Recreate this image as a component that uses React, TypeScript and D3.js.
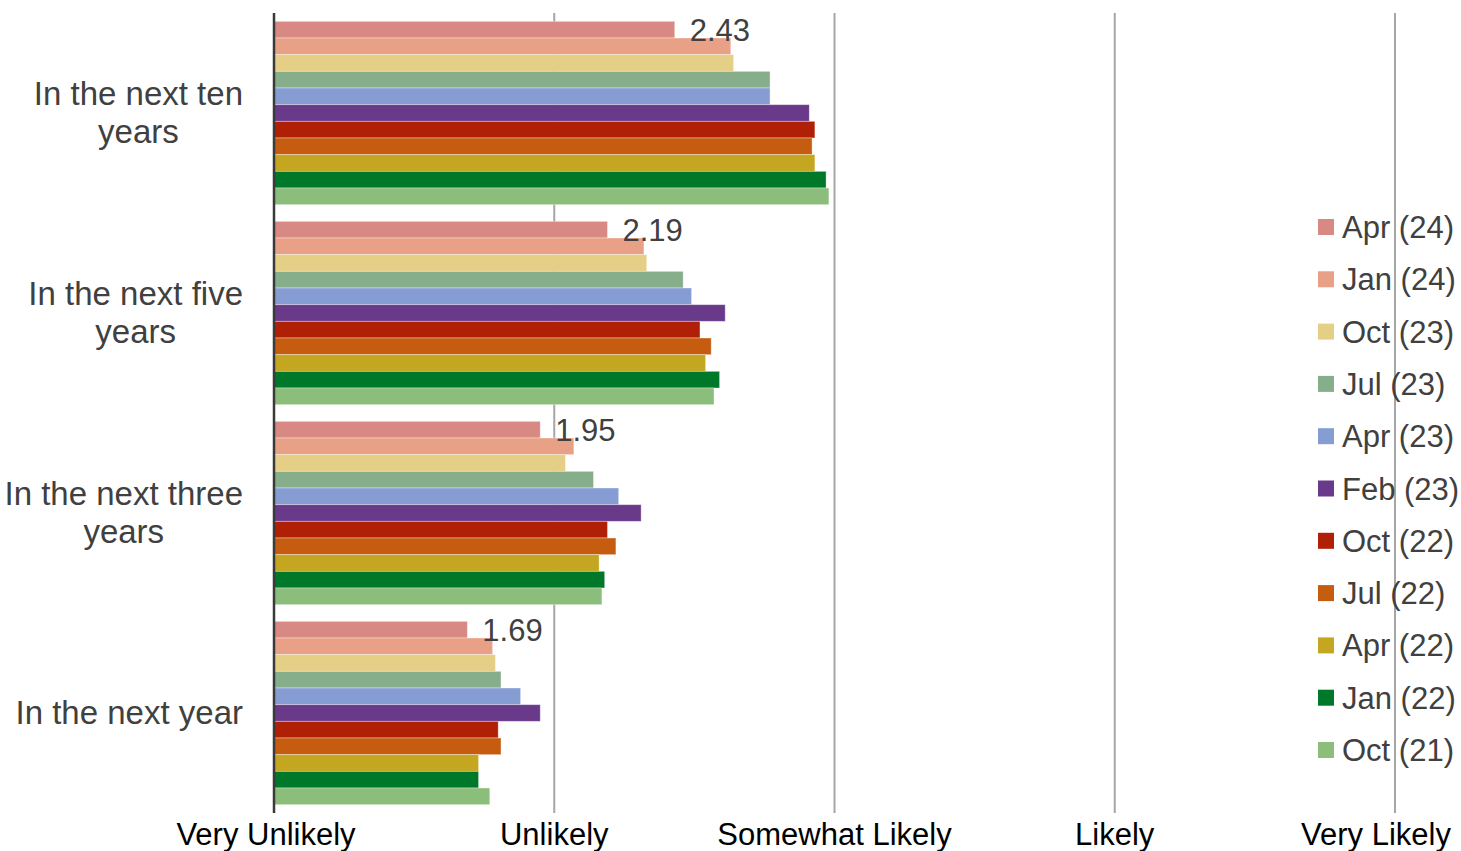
import React, { useRef, useEffect } from "react";
import * as d3 from "d3";

// categories, top to bottom
const categories = [
  "In the next ten years",
  "In the next five years",
  "In the next three years",
  "In the next year",
];

// survey waves (legend order, also bar order inside each group)
const waves = [
  "Apr (24)",
  "Jan (24)",
  "Oct (23)",
  "Jul (23)",
  "Apr (23)",
  "Feb (23)",
  "Oct (22)",
  "Jul (22)",
  "Apr (22)",
  "Jan (22)",
  "Oct (21)",
];

const waveColors = [
  "#D88983",
  "#E8A086",
  "#E5CF87",
  "#86AE8A",
  "#869DD3",
  "#6A3A8A",
  "#B02006",
  "#C55C10",
  "#C4A621",
  "#00782A",
  "#8BBE7A",
];

// mean score per wave, 1 = Very Unlikely ... 5 = Very Likely
const tenYears = [2.43, 2.63, 2.64, 2.77, 2.77, 2.91, 2.93, 2.92, 2.93, 2.97, 2.98];
const fiveYears = [2.19, 2.32, 2.33, 2.46, 2.49, 2.61, 2.52, 2.56, 2.54, 2.59, 2.57];
const threeYears = [1.95, 2.07, 2.04, 2.14, 2.23, 2.31, 2.19, 2.22, 2.16, 2.18, 2.17];
const nextYear = [1.69, 1.78, 1.79, 1.81, 1.88, 1.95, 1.8, 1.81, 1.73, 1.73, 1.77];

const tickValues = [1, 2, 3, 4, 5];
const tickLabels = ["Very Unlikely", "Unlikely", "Somewhat Likely", "Likely", "Very Likely"];

const FONT = "'Liberation Sans', Arial, sans-serif";

const App: React.FC = () => {
  const ref = useRef<SVGSVGElement | null>(null);

  useEffect(() => {
    if (!ref.current) return;
    const root = d3.select(ref.current);
    root.selectAll("*").remove();

    const width = 1461;
    const height = 851;
    const margin = { top: 13, right: 66, bottom: 38, left: 274 };

    const rows = [tenYears, fiveYears, threeYears, nextYear];
    const data = categories.map((c, ci) => ({
      category: c,
      values: rows[ci].map((v, wi) => ({ wave: waves[wi], value: v, color: waveColors[wi] })),
    }));

    const x = d3.scaleLinear().domain([1, 5]).range([margin.left, width - margin.right]);
    const y0 = d3
      .scaleBand()
      .domain(categories)
      .range([margin.top, height - margin.bottom])
      .padding(0);
    const y1 = d3
      .scaleBand()
      .domain(waves)
      .range([0, y0.bandwidth()])
      .paddingInner(0)
      .paddingOuter(0.5);

    const svg = root.attr("width", width).attr("height", height);
    svg.append("rect").attr("width", width).attr("height", height).attr("fill", "#fff");

    // vertical gridlines
    svg
      .append("g")
      .selectAll("line")
      .data(tickValues)
      .enter()
      .append("line")
      .attr("x1", (d) => x(d))
      .attr("x2", (d) => x(d))
      .attr("y1", margin.top)
      .attr("y2", height - margin.bottom)
      .attr("stroke", "#a6a6a6")
      .attr("stroke-width", 2);

    // bars
    const groups = svg
      .append("g")
      .selectAll("g")
      .data(data)
      .enter()
      .append("g")
      .attr("transform", (d) => `translate(0,${y0(d.category)})`);

    groups
      .selectAll("rect")
      .data((d) => d.values)
      .enter()
      .append("rect")
      .attr("x", x(1))
      .attr("y", (d) => y1(d.wave)!)
      .attr("width", (d) => x(d.value) - x(1))
      .attr("height", y1.bandwidth())
      .attr("fill", (d) => d.color)
      .attr("stroke", "#ffffff")
      .attr("stroke-opacity", 0.45)
      .attr("stroke-width", 0.8);

    // label on the latest wave only
    groups
      .append("text")
      .attr("x", (d) => x(d.values[0].value) + 15)
      .attr("y", y1(waves[0])! + y1.bandwidth() / 2 + 11)
      .style("font-family", FONT)
      .style("font-size", "31px")
      .attr("fill", "#404040")
      .text((d) => d.values[0].value.toFixed(2));

    // axis line
    svg
      .append("line")
      .attr("x1", x(1))
      .attr("x2", x(1))
      .attr("y1", margin.top)
      .attr("y2", height - margin.bottom)
      .attr("stroke", "#3a3a3a")
      .attr("stroke-width", 2.5);

    // x tick labels
    const ticks = svg
      .append("g")
      .selectAll("text")
      .data(tickValues)
      .enter()
      .append("text")
      .attr("x", (d) => x(d))
      .attr("y", height - 6)
      .attr("text-anchor", "middle")
      .style("font-family", FONT)
      .style("font-size", "31px")
      .attr("fill", "#000")
      .text((d, i) => tickLabels[i]);
    ticks.each(function (d) {
      const t = this as SVGTextElement;
      const w = t.getComputedTextLength();
      const cx = +t.getAttribute("x")!;
      if (cx + w / 2 > width - 10) t.setAttribute("x", String(width - 10 - w / 2));
      if (d === 1) t.setAttribute("x", String(cx - 8));
    });

    // category labels, wrapped and right-aligned as a block
    const labelRight = margin.left - 31;
    const maxW = 245;
    const lineH = 38;
    const catSize = "33px";
    const cat = svg.append("g");
    categories.forEach((c) => {
      const words = c.split(" ");
      const lines: string[] = [];
      const probe = cat
        .append("text")
        .style("font-family", FONT)
        .style("font-size", catSize);
      let cur = "";
      words.forEach((w) => {
        const test = cur ? cur + " " + w : w;
        probe.text(test);
        if ((probe.node() as SVGTextElement).getComputedTextLength() > maxW && cur) {
          lines.push(cur);
          cur = w;
        } else {
          cur = test;
        }
      });
      lines.push(cur);
      const widths = lines.map((l) => {
        probe.text(l);
        return (probe.node() as SVGTextElement).getComputedTextLength();
      });
      probe.remove();
      const blockW = d3.max(widths) || 0;
      const cx = labelRight - blockW / 2;
      const cy = y0(c)! + y0.bandwidth() / 2;
      lines.forEach((l, li) => {
        cat
          .append("text")
          .attr("x", cx)
          .attr("y", cy + (li - (lines.length - 1) / 2) * lineH + 11)
          .attr("text-anchor", "middle")
          .style("font-family", FONT)
          .style("font-size", catSize)
          .attr("fill", "#404040")
          .text(l);
      });
    });

    // legend
    const legendY = d3
      .scalePoint()
      .domain(waves)
      .range([227, 750]);
    const legend = svg
      .append("g")
      .selectAll("g")
      .data(waves)
      .enter()
      .append("g")
      .attr("transform", (d) => `translate(1318,${legendY(d)})`);
    legend
      .append("rect")
      .attr("x", 0)
      .attr("y", -8)
      .attr("width", 16)
      .attr("height", 16)
      .attr("fill", (d, i) => waveColors[i]);
    legend
      .append("text")
      .attr("x", 24)
      .attr("y", 11)
      .style("font-family", FONT)
      .style("font-size", "31px")
      .attr("fill", "#404040")
      .text((d) => d);
  }, []);

  return (
    <svg
      ref={ref}
      style={{ position: "absolute", left: 0, top: 0, display: "block" }}
    ></svg>
  );
};

export default App;
